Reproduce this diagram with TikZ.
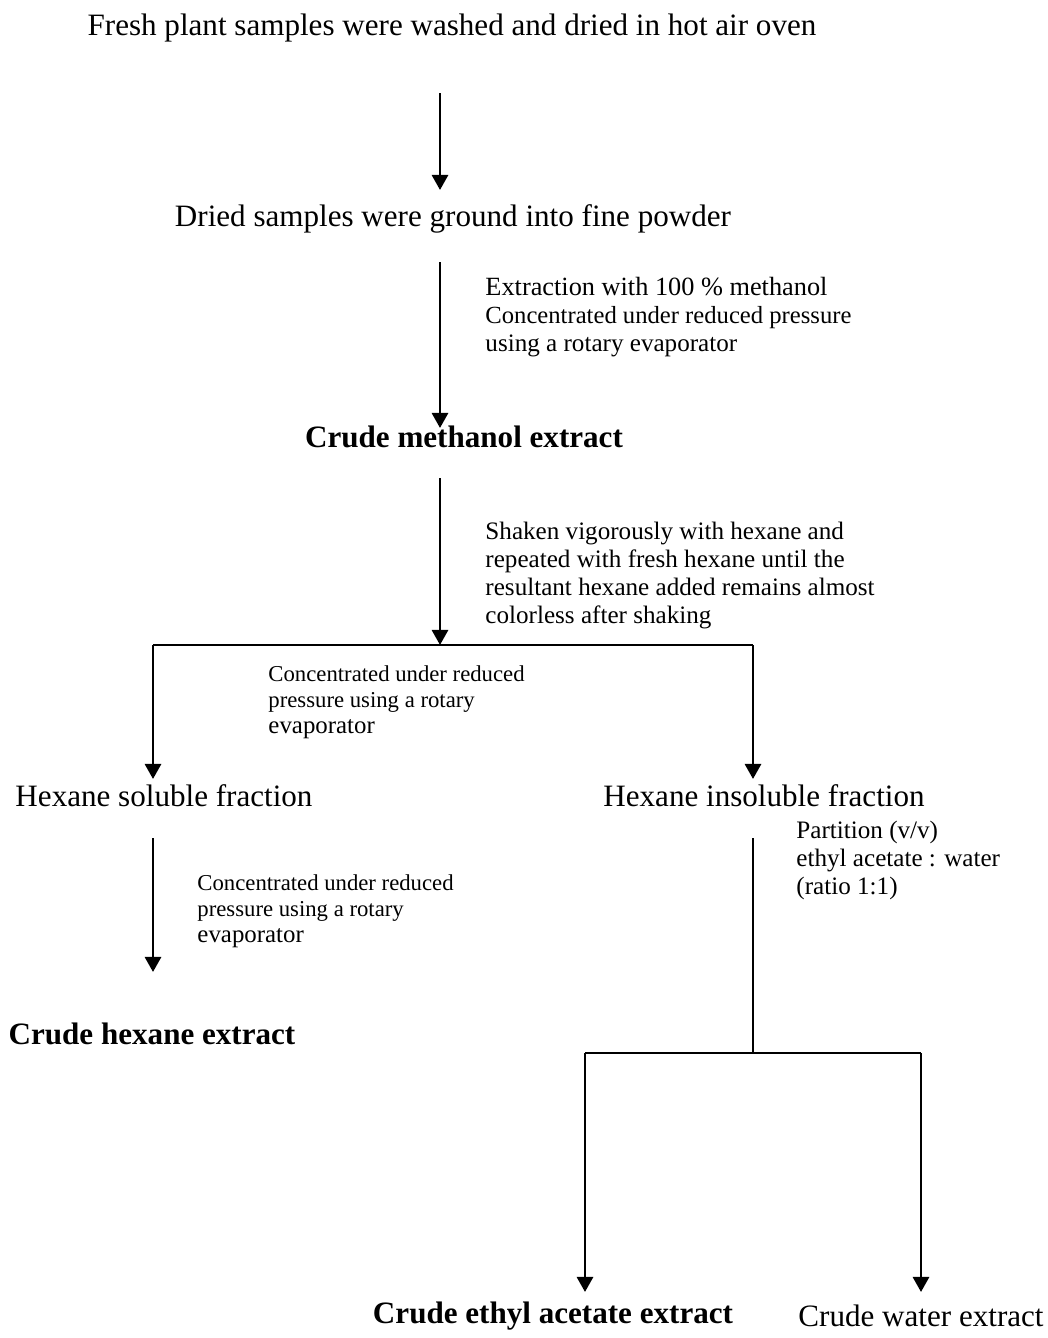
\documentclass[tikz,border=0pt]{standalone}
\usepackage{fontspec}
\setmainfont{Liberation Serif}
\usetikzlibrary{arrows.meta, positioning}
\tikzset{
	stage/.style={inner sep=0pt, font=\fontsize{13}{15}\selectfont},
	product/.style={inner sep=0pt, font=\fontsize{13}{15}\selectfont\bfseries},
	note/.style={anchor=north west, align=left, inner sep=0pt, font=\fontsize{10.5}{11.7}\selectfont},
	smallnote/.style={note, font=\fontsize{9.5}{11}\selectfont},
	flowline/.style={line width=1.2pt},
	flowarrow/.style={-{Triangle[width=6.7pt, length=6.3pt]}, line width=1.2pt},
}

\begin{document}
\begin{tikzpicture}[x=0.0147cm, y=-0.0147cm]
		\useasboundingbox (0,0) rectangle (1047,1338);
		% stages
		\node[stage] (fresh) at (452,28) {Fresh plant samples were washed and dried in hot air oven};
		\node[stage] (dried) at (453,219) {Dried samples were ground into fine powder};
		\node[product] (methanol) at (464,437) {Crude methanol extract};
		\node[stage] (hexsol) at (164,796) {Hexane soluble fraction};
		\node[stage] (hexinsol) at (764,796) {Hexane insoluble fraction};
		\node[product] (hexext) at (152,1034) {Crude hexane extract};
		\node[product] (eaext) at (553,1316) {Crude ethyl acetate extract};
		\node[stage] (waterext) at (921,1316) {Crude water extract};
		% notes
		\node[note] (extract) at (485,277) {\fontsize{11}{12.5}\selectfont Extraction with 100 \% methanol\\\fontsize{10.3}{11.7}\selectfont Concentrated under reduced pressure\\using a rotary evaporator};
		\node[note] (shake) at (485,522) {Shaken vigorously with hexane and\\repeated with fresh hexane until the\\resultant hexane added remains almost\\colorless after shaking};
		\node[smallnote] (conc1) at (268,665) {Concentrated under reduced\\pressure using a rotary\\\fontsize{10.4}{11}\selectfont evaporator};
		\node[smallnote] (conc2) at (197,874) {Concentrated under reduced\\pressure using a rotary\\\fontsize{10.4}{11}\selectfont evaporator};
		\node[note] (partition) at (796,821) {Partition (v/v)\\ethyl acetate : water\\(ratio 1:1)};
		% junctions
		\coordinate (a1s) at (440,93);
		\coordinate (a1e) at (440,190);
		\coordinate (a2s) at (440,262);
		\coordinate (a2e) at (440,428);
		\coordinate (a3s) at (440,478);
		\coordinate (split1) at (440,645);
		\coordinate (hexl) at (153,645);
		\coordinate (hexr) at (753,645);
		\coordinate (hexlend) at (153,779);
		\coordinate (hexrend) at (753,779);
		\coordinate (a4s) at (153,838);
		\coordinate (a4e) at (153,972);
		\coordinate (a5s) at (753,838);
		\coordinate (split2) at (753,1053);
		\coordinate (eal) at (585,1053);
		\coordinate (war) at (921,1053);
		\coordinate (ealend) at (585,1292);
		\coordinate (warend) at (921,1292);
		% connectors
		\draw[flowarrow] (a1s) -- (a1e);
		\draw[flowarrow] (a2s) -- (a2e);
		\draw[flowarrow] (a3s) -- (split1);
		\draw[flowline] (hexl) -- (hexr);
		\draw[flowarrow] (hexl) -- (hexlend);
		\draw[flowarrow] (hexr) -- (hexrend);
		\draw[flowarrow] (a4s) -- (a4e);
		\draw[flowline] (a5s) -- (split2);
		\draw[flowline] (eal) -- (war);
		\draw[flowarrow] (eal) -- (ealend);
		\draw[flowarrow] (war) -- (warend);
	\end{tikzpicture}
\end{document}
